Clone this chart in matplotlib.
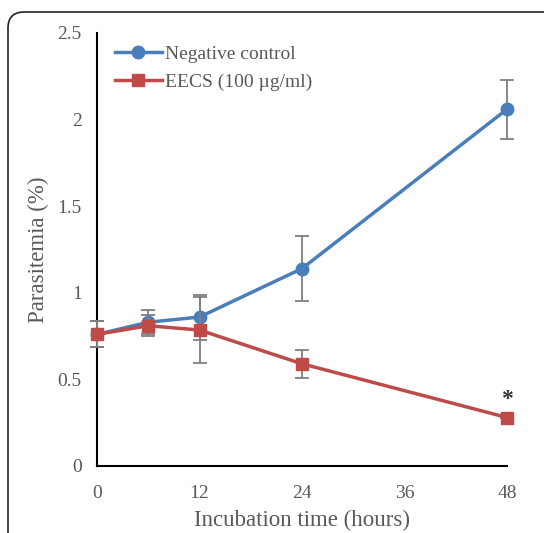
import matplotlib
matplotlib.use("Agg")
import matplotlib.pyplot as plt
from matplotlib.patches import FancyBboxPatch
from matplotlib.lines import Line2D

hours = [0, 6, 12, 24, 48]
control = [0.76, 0.83, 0.86, 1.14, 2.06]
control_err = [0.075, 0.07, 0.13, 0.19, 0.17]
eecs = [0.76, 0.81, 0.785, 0.59, 0.28]
eecs_err = [0.075, 0.06, 0.19, 0.08, 0.0]
xticks = [0, 12, 24, 36, 48]
yticks = [0, 0.5, 1, 1.5, 2, 2.5]
ytick_labels = ["0", "0.5", "1", "1.5", "2", "2.5"]

plt.rcParams['font.family'] = ['Liberation Serif', 'DejaVu Serif']
txt = '#595959'
blue = '#4A7EBB'
red = '#BE4B48'
gray = '#7F7F7F'

fig = plt.figure(figsize=(5.44, 5.33), dpi=100)
frame = FancyBboxPatch((8/544, -0.2), 1.2, (533-12)/533 + 0.2,
                       boxstyle="round,pad=0,rounding_size=0.03",
                       transform=fig.transFigure, fill=False,
                       edgecolor='#222222', linewidth=1.2, clip_on=False)
fig.patches.append(frame)

ax = fig.add_axes([97/544, 67/533, 410/544, 433/533])
ax.errorbar(hours, control, yerr=control_err, color=blue, lw=2.5, marker='o',
            markersize=9, ecolor=gray, elinewidth=1.3, capsize=5, capthick=1.3,
            clip_on=False, zorder=3)
ax.errorbar(hours, eecs, yerr=eecs_err, color=red, lw=2.5, marker='s',
            markersize=9, ecolor=gray, elinewidth=1.3, capsize=5, capthick=1.3,
            clip_on=False, zorder=4)
ax.text(hours[-1], eecs[-1] + 0.045, '*', ha='center', va='bottom', fontsize=17,
        color='#333333', fontweight='bold')

ax.set_xlim(0, 48)
ax.set_ylim(0, 2.5)
ax.set_xticks(xticks)
ax.set_yticks(yticks)
ax.set_yticklabels(ytick_labels)
ax.tick_params(length=0, labelsize=14, colors=txt)
ax.tick_params(axis='y', pad=11)
ax.tick_params(axis='x', pad=14)
for s in ['top', 'right']:
    ax.spines[s].set_visible(False)
for s in ['left', 'bottom']:
    ax.spines[s].set_linewidth(1.5)
    ax.spines[s].set_color('black')
ax.set_xlabel('Incubation time (hours)', fontsize=16.5, color=txt, labelpad=5)
ax.set_ylabel('Parasitemia (%)', fontsize=16.5, color=txt, labelpad=6)

handles = [Line2D([], [], color=blue, lw=2.5, marker='o', markersize=9),
           Line2D([], [], color=red, lw=2.5, marker='s', markersize=9)]
leg = ax.legend(handles, ['Negative control', 'EECS (100 µg/ml)'],
                loc='upper left', bbox_to_anchor=(0.025, 0.99), frameon=False,
                fontsize=14, handlelength=2.4, handletextpad=0.15, labelspacing=0.55,
                borderaxespad=0.0)
for t in leg.get_texts():
    t.set_color(txt)

fig.savefig('out.png', dpi=100)
